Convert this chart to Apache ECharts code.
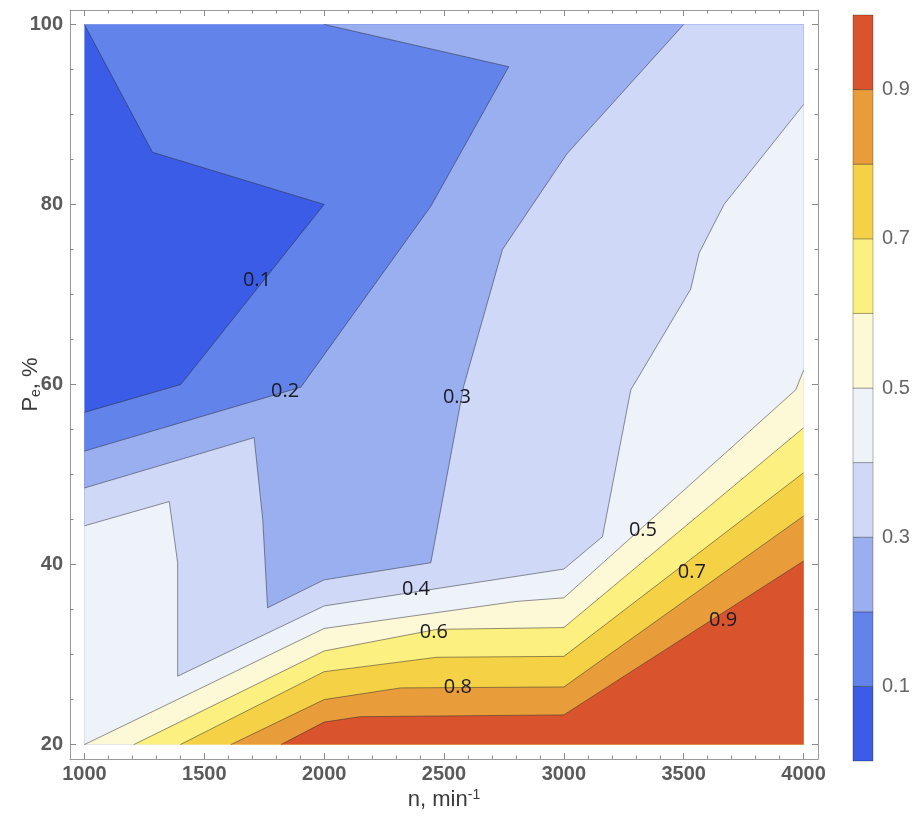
<!DOCTYPE html>
<html>
<head>
<meta charset="utf-8">
<script src="https://cdn.jsdelivr.net/npm/echarts@6.0.0/dist/echarts.min.js"></script>
<style>html,body{margin:0;padding:0;background:#fff}#chart{width:917px;height:819px}</style>
</head>
<body>
<div id="chart"></div>
<script>
// ---- data ----
const levels = [0.1, 0.2, 0.3, 0.4, 0.5, 0.6, 0.7, 0.8, 0.9];
const bandColors = ['#3b5ce6', '#6183ea', '#99aff0', '#cfd9f7', '#eef2f9',
                    '#fdf8d6', '#fcf180', '#f5d245', '#e99d3a', '#d9532c'];
// contour lines (n, Pe)
const contour01 = [[1000,100],[1284,85.8],[2000,80],[1402,60],[1000,56.9]];
const contour02 = [[2000,100],[2770,95.3],[2445,79.8],[1903,59.7],[1000,52.6]];
const contour03 = [[3500,100],[3012,85.6],[2744,75],[2582,59.8],[2445,40.2],[2000,38.3],[1764,35.2],[1744,45],[1708,54.1],[1000,48.5]];
const contour04 = [[4000,91.1],[3668,80],[3564,74.6],[3529,70.6],[3279,59.4],[3161,43.1],[3000,39.5],[2000,35.4],[1389,27.6],[1389,40.2],[1354,47],[1000,44.3]];
const contour05 = [[1000,20],[2000,32.9],[2800,35.9],[3000,36.3],[3967,59.4],[4000,61.6]];
const contour06 = [[1206,20],[2000,30.4],[2470,32.8],[3000,33],[4000,55.2]];
const contour07 = [[1400,20],[2000,28.1],[2470,29.7],[3000,29.8],[4000,50.2]];
const contour08 = [[1611,20],[2000,25],[2320,26.3],[3000,26.4],[4000,45.4]];
const contour09 = [[1820,20],[2000,22.5],[2150,23.1],[3000,23.3],[4000,40.4]];
const contours = [contour01, contour02, contour03, contour04, contour05, contour06, contour07, contour08, contour09];
const labelPos = [[1720,71.6],[1837,59.2],[2554,58.6],[2383,37.2],[3330,43.8],[2458,32.5],[3534,39.1],[2558,26.4],[3664,33.8]];
const xTicks = [1000, 1500, 2000, 2500, 3000, 3500, 4000];
const yTicks = [20, 40, 60, 80, 100];
const barTicks = [0.1, 0.3, 0.5, 0.7, 0.9];
const domain = {xMin: 1000, xMax: 4000, yMin: 20, yMax: 100};
const xMinor = []; for (let v = 1000; v <= 4000; v += 100) xMinor.push(v);
const yMinor = []; for (let v = 20; v <= 100; v += 5) yMinor.push(v);

// ---- helpers ----
const D = domain;
const cornerAt = [[D.xMin, D.yMax], [D.xMin, D.yMin], [D.xMax, D.yMin], [D.xMax, D.yMax]];
function perim(p) {
  const [x, y] = p;
  if (x === D.xMin) return (D.yMax - y) / (D.yMax - D.yMin);
  if (y === D.yMin) return 1 + (x - D.xMin) / (D.xMax - D.xMin);
  if (x === D.xMax) return 2 + (y - D.yMin) / (D.yMax - D.yMin);
  return 3 + (D.xMax - x) / (D.xMax - D.xMin);
}
// region of values above the level: close the contour along the frame through the high corner
function regionPolygon(c) {
  const ts = perim(c[0]), te = perim(c[c.length - 1]);
  const inc = [], dec = [];
  const tsI = ts > te ? ts : ts + 4;
  for (let k = Math.floor(te) + 1; k < tsI; k++) inc.push(k);
  const tsD = ts < te ? ts : ts - 4;
  for (let k = Math.ceil(te) - 1; k > tsD; k--) dec.push(k);
  const hasHigh = arr => arr.some(k => ((k % 4) + 4) % 4 === 2);
  const ks = hasHigh(inc) ? inc : dec;
  return c.concat(ks.map(k => cornerAt[((k % 4) + 4) % 4]));
}

const chart = echarts.init(document.getElementById('chart'));
const frameColor = '#9a9a9a';
const tickColor = '#8a8a8a';
const FONT = 'Liberation Sans, Arial, sans-serif';
const labelFont = {color: '#5a5a5a', fontSize: 20, fontWeight: 'bold', fontFamily: FONT, formatter: v => String(v)};

function xAx(pos, major, withLabel) {
  return {
    type: 'value', gridIndex: 0, position: pos, min: 940, max: 4060,
    axisLine: {show: major, lineStyle: {color: frameColor, width: 1}},
    axisTick: {show: true, inside: true, length: major ? 6 : 3.5, customValues: major ? xTicks : xMinor, lineStyle: {color: tickColor}},
    axisLabel: withLabel ? Object.assign({customValues: xTicks, margin: 5}, labelFont) : {show: false},
    splitLine: {show: false}
  };
}
function yAx(pos, major, withLabel) {
  return {
    type: 'value', gridIndex: 0, position: pos, min: 18.4, max: 101.6,
    axisLine: {show: major, lineStyle: {color: frameColor, width: 1}},
    axisTick: {show: true, inside: true, length: major ? 6 : 3.5, customValues: major ? yTicks : yMinor, lineStyle: {color: tickColor}},
    axisLabel: withLabel ? Object.assign({customValues: yTicks, margin: 7}, labelFont) : {show: false},
    splitLine: {show: false}
  };
}

const xAxes = [xAx('bottom', true, true), xAx('bottom', false, false), xAx('top', true, false), xAx('top', false, false)];
Object.assign(xAxes[0], {
  name: '{b|n, min}{s|-1}', nameLocation: 'middle', nameGap: 29, nameMoveOverlap: false,
  nameTextStyle: {rich: {
    b: {fontSize: 22, color: '#3a3a3a', fontFamily: FONT, lineHeight: 24},
    s: {fontSize: 14, color: '#3a3a3a', fontFamily: FONT, verticalAlign: 'top', lineHeight: 24}
  }}
});
const yAxes = [yAx('left', true, true), yAx('left', false, false), yAx('right', true, false), yAx('right', false, false)];
Object.assign(yAxes[0], {
  name: '{b|P}{s|e}{b|, %}', nameLocation: 'middle', nameGap: 27, nameMoveOverlap: false,
  nameTextStyle: {rich: {
    b: {fontSize: 22, color: '#3a3a3a', fontFamily: FONT, lineHeight: 24},
    s: {fontSize: 14, color: '#3a3a3a', fontFamily: FONT, verticalAlign: 'bottom', lineHeight: 24}
  }}
});

// colorbar axes
xAxes.push({type: 'value', gridIndex: 1, min: 0, max: 1, show: false});
yAxes.push({
  type: 'value', gridIndex: 1, min: 0, max: 1, position: 'right',
  axisLine: {show: false},
  axisTick: {show: true, length: 7, customValues: barTicks, lineStyle: {color: '#999'}},
  axisLabel: {customValues: barTicks, margin: 9, color: '#666', fontSize: 20, fontFamily: FONT, formatter: v => v.toFixed(1)},
  splitLine: {show: false}
});

const polyData = [{value: [D.xMin, D.yMin, -1]}].concat(contours.map((c, i) => ({value: [D.xMin, D.yMin, i]})));

const option = {
  animation: false,
  backgroundColor: '#fff',
  grid: [
    {left: 70, top: 10, width: 748, height: 749, outerBoundsMode: 'none', containLabel: false},
    {left: 853, top: 15, width: 20, height: 746, outerBoundsMode: 'none', containLabel: false}
  ],
  xAxis: xAxes,
  yAxis: yAxes,
  series: [
    {
      type: 'custom', xAxisIndex: 0, yAxisIndex: 0, z: 1,
      data: polyData,
      renderItem: function (params, api) {
        const i = api.value(2);
        let pts;
        if (i < 0) pts = [[D.xMin, D.yMax], [D.xMin, D.yMin], [D.xMax, D.yMin], [D.xMax, D.yMax]];
        else pts = regionPolygon(contours[i]);
        return {type: 'polygon', shape: {points: pts.map(p => api.coord(p))}, style: {fill: bandColors[i + 1], stroke: null}};
      }
    },
    {
      type: 'custom', xAxisIndex: 0, yAxisIndex: 0, z: 2,
      data: contours.map((c, i) => ({value: [D.xMin, D.yMin, i]})),
      renderItem: function (params, api) {
        const i = api.value(2);
        return {type: 'polyline', shape: {points: contours[i].map(p => api.coord(p))},
          style: {fill: null, stroke: 'rgba(40,40,50,0.5)', lineWidth: 1}};
      }
    },
    {
      type: 'custom', xAxisIndex: 0, yAxisIndex: 0, z: 3,
      data: labelPos.map((p, i) => ({value: [p[0], p[1], i]})),
      renderItem: function (params, api) {
        const pt = api.coord([api.value(0), api.value(1)]);
        const i = api.value(2);
        return {type: 'text', x: pt[0], y: pt[1],
          style: {text: levels[i].toFixed(1), fill: '#1a1a22', font: '20px "Open Sans", sans-serif', align: 'center', verticalAlign: 'middle'}};
      }
    },
    {
      type: 'custom', xAxisIndex: 4, yAxisIndex: 4, z: 2,
      data: bandColors.map((c, i) => ({value: [0, i === 0 ? 0 : levels[i - 1], i === 9 ? 1 : levels[i], i]})),
      renderItem: function (params, api) {
        const p0 = api.coord([0, api.value(1)]);
        const p1 = api.coord([1, api.value(2)]);
        return {type: 'rect', shape: {x: p0[0], y: p1[1], width: p1[0] - p0[0], height: p0[1] - p1[1]},
          style: {fill: bandColors[api.value(3)], stroke: 'rgba(0,0,0,0.28)', lineWidth: 1}};
      }
    }
  ]
};
chart.setOption(option);
</script>
</body>
</html>
